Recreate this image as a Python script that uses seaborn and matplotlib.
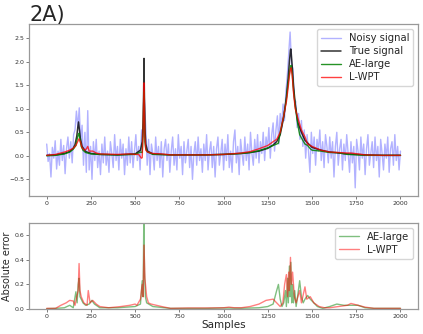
import numpy as np
import pandas as pd
import matplotlib
matplotlib.use("Agg")
import matplotlib.pyplot as plt
import seaborn as sns

# ---------------- data ----------------
noisy_step = 8
noisy_vals = [
    0.25, -0.12, 0.05, -0.45, 0.18, -0.05, 0.32, -0.28, 0.10, -0.20,
    0.35, -0.10, 0.22, -0.38, 0.15, 0.40, -0.05, 0.30, -0.15, 0.45,
    0.55, 0.95, 0.60, 1.02, 0.30, 0.65, -0.20, 0.50, -0.35, 0.96,
    -0.30, 0.20, -0.50, 0.30, -0.10, 0.35, -0.25, 0.10, -0.40, 0.25,
    -0.15, 0.40, -0.20, 0.10, -0.35, 0.30, 0.05, -0.25, 0.45, -0.10,
    0.20, -0.30, 0.35, -0.05, 0.25, -0.40, 0.15, -0.20, 0.40, -0.15,
    0.30, -0.25, 0.10, 0.45, -0.10, 0.20, -0.30, 0.55, 0.40, 1.20,
    0.60, -0.20, 0.35, -0.40, 0.25, 0.05, -0.30, 0.40, -0.10, 0.20,
    -0.25, 0.30, -0.45, 0.15, 0.35, -0.10, 0.25, -0.35, 0.10, 0.40,
    -0.20, 0.15, -0.30, 0.45, -0.05, 0.20, -0.40, 0.30, -0.15, 0.10,
    0.35, -0.25, 0.20, -0.50, 0.05, 0.30, -0.20, 0.40, -0.10, 0.15,
    -0.35, 0.25, -0.10, 0.45, -0.30, 0.10, 0.30, -0.25, 0.20, -0.45,
    0.15, 0.40, -0.20, 0.05, 0.35, -0.30, 0.25, -0.10, 0.45, -0.25,
    0.10, -0.35, 0.30, 0.55, -0.15, 0.20, -0.40, 0.35, 0.05, -0.20,
    0.40, -0.10, 0.25, -0.30, 0.50, 0.05, -0.20, 0.35, -0.05, 0.45,
    -0.15, 0.30, 0.05, 0.50, -0.10, 0.40, 0.15, 0.60, -0.05, 0.45,
    0.70, 0.10, 0.55, 0.85, 0.25, 0.90, 0.60, 1.10, 0.75, 1.35,
    1.70, 2.15, 2.63, 1.95, 1.85, 1.20, 1.15, 0.60, 0.90, 0.35,
    0.75, 0.20, 0.55, -0.05, 0.45, 0.10, -0.35, 0.50, 0.05, 0.40,
    -0.20, 0.35, 0.10, 0.55, -0.10, 0.30, -0.25, 0.45, 0.20, -0.15,
    0.40, -0.05, 0.30, -0.45, 0.20, 0.50, -0.20, 0.15, 0.35, -0.30,
    0.25, -0.10, 0.45, 0.05, -0.35, 0.30, -0.15, 0.20, -0.68, 0.35,
    0.10, -0.30, 0.40, -0.05, 0.25, -0.40, 0.15, 0.45, -0.20, 0.05,
    0.30, -0.25, 0.40, -0.10, 0.20, -0.45, 0.35, 0.05, -0.30, 0.25,
    -0.05, 0.40, -0.35, 0.15, 0.30, -0.20, 0.45, -0.10, 0.20, -0.30,
    0.10,
]
noisy_x = list(range(0, 2001, noisy_step))

true_x = [0, 50, 100, 130, 150, 160, 170, 175, 180, 185, 190, 200, 220, 250, 300,
          400, 500, 530, 540, 545, 548, 550, 552, 555, 560, 570, 600, 700, 800, 900,
          1000, 1100, 1150, 1200, 1250, 1280, 1300, 1320, 1340, 1355, 1365, 1372,
          1378, 1380, 1382, 1388, 1395, 1405, 1420, 1440, 1460, 1500, 1550, 1600,
          1700, 1800, 1900, 2000]
true_y = [0.01, 0.02, 0.05, 0.09, 0.16, 0.24, 0.42, 0.58, 0.72, 0.55, 0.38, 0.20, 0.09, 0.05, 0.03,
          0.02, 0.04, 0.12, 0.30, 0.70, 1.40, 2.07, 1.40, 0.60, 0.25, 0.10, 0.04, 0.02, 0.02, 0.02,
          0.03, 0.05, 0.07, 0.10, 0.16, 0.23, 0.30, 0.45, 0.82, 1.25, 1.65, 2.00,
          2.25, 2.27, 2.20, 1.90, 1.50, 1.10, 0.70, 0.50, 0.33, 0.18, 0.12, 0.08,
          0.04, 0.02, 0.01, 0.01]

ae_x = [0, 50, 100, 130, 150, 165, 172, 178, 182, 188, 195, 205, 220, 250, 300,
        400, 500, 530, 540, 545, 548, 550, 552, 555, 560, 570, 600, 700, 800, 900,
        1000, 1100, 1150, 1200, 1250, 1280, 1300, 1310, 1320, 1340, 1355, 1365, 1372,
        1378, 1382, 1388, 1395, 1405, 1420, 1430, 1440, 1460, 1475, 1490, 1500, 1550,
        1600, 1640, 1700, 1800, 1900, 2000]
ae_y = [0.00, 0.01, 0.04, 0.08, 0.14, 0.22, 0.35, 0.45, 0.48, 0.35, 0.20, 0.12, 0.07, 0.04, 0.03,
        0.02, 0.03, 0.08, 0.07, 0.50, 1.10, 1.37, 1.10, 0.30, 0.15, 0.08, 0.03, 0.02, 0.02, 0.02,
        0.03, 0.05, 0.07, 0.11, 0.17, 0.22, 0.25, 0.27, 0.50, 0.85, 1.20, 1.55, 1.75,
        1.90, 1.92, 1.75, 1.40, 1.05, 0.65, 0.45, 0.38, 0.25, 0.22, 0.15, 0.12, 0.10,
        0.07, 0.07, 0.03, 0.01, 0.01, 0.01]

wpt_x = [0, 50, 100, 130, 150, 165, 175, 182, 190, 200, 215, 225, 232, 240, 260, 280, 300,
         400, 470, 500, 520, 535, 540, 545, 548, 550, 552, 555, 560, 570, 600, 650, 700,
         800, 900, 1000, 1100, 1150, 1200, 1250, 1280, 1300, 1320, 1340, 1355, 1365,
         1372, 1378, 1382, 1388, 1395, 1405, 1420, 1440, 1460, 1475, 1500, 1550, 1600,
         1700, 1720, 1800, 1900, 2000]
wpt_y = [0.01, 0.03, 0.08, 0.12, 0.16, 0.22, 0.30, 0.36, 0.30, 0.17, 0.12, 0.15, 0.20, 0.10, 0.10, 0.06, 0.04,
         0.03, 0.04, 0.03, 0.03, -0.05, -0.04, 0.60, 1.20, 1.55, 1.20, 0.40, 0.12, 0.08, 0.05, 0.04, 0.02,
         0.02, 0.02, 0.03, 0.06, 0.09, 0.15, 0.22, 0.30, 0.35, 0.50, 0.85, 1.15, 1.45,
         1.70, 1.85, 1.87, 1.70, 1.35, 1.00, 0.80, 0.55, 0.40, 0.25, 0.20, 0.12, 0.08,
         0.06, 0.06, 0.02, 0.01, 0.01]

err_ae_x = [0, 50, 100, 130, 150, 165, 172, 178, 183, 188, 195, 205, 220, 240, 255, 270, 300,
            400, 500, 530, 540, 545, 549, 553, 558, 565, 600, 700, 800, 900, 1000, 1100, 1200,
            1250, 1280, 1300, 1310, 1320, 1330, 1340, 1350, 1355, 1362, 1366, 1372, 1376, 1380,
            1385, 1390, 1395, 1402, 1410, 1420, 1430, 1440, 1450, 1460, 1475, 1490, 1510, 1530,
            1560, 1600, 1640, 1680, 1720, 1760, 1800, 1850, 2000]
err_ae_y = [0.003, 0.005, 0.01, 0.03, 0.01, 0.14, 0.05, 0.20, 0.25, 0.10, 0.08, 0.05, 0.03, 0.04, 0.07, 0.04, 0.01,
            0.01, 0.02, 0.04, 0.23, 0.10, 0.75, 0.30, 0.10, 0.05, 0.02, 0.005, 0.005, 0.005, 0.008, 0.006, 0.01,
            0.02, 0.04, 0.15, 0.20, 0.08, 0.02, 0.05, 0.15, 0.02, 0.25, 0.05, 0.35, 0.10, 0.38,
            0.05, 0.20, 0.05, 0.15, 0.02, 0.12, 0.23, 0.10, 0.05, 0.08, 0.11, 0.08, 0.05, 0.02,
            0.005, 0.02, 0.04, 0.03, 0.03, 0.03, 0.01, 0.005, 0.005]

err_wpt_x = [0, 50, 80, 110, 130, 150, 160, 170, 178, 183, 188, 195, 210, 228, 235, 245, 260, 280, 300,
             350, 420, 470, 500, 510, 530, 540, 545, 550, 555, 565, 575, 590, 620, 650, 700,
             800, 900, 1000, 1030, 1060, 1100, 1150, 1200, 1240, 1280, 1300, 1320, 1335, 1345,
             1355, 1362, 1368, 1372, 1378, 1383, 1390, 1400, 1410, 1430, 1440, 1460, 1470, 1490,
             1510, 1540, 1570, 1600, 1650, 1700, 1720, 1760, 1800, 1850, 2000]
err_wpt_y = [0.005, 0.005, 0.03, 0.05, 0.07, 0.065, 0.03, 0.10, 0.15, 0.37, 0.15, 0.10, 0.05, 0.03, 0.15, 0.05, 0.07, 0.04, 0.02,
             0.01, 0.02, 0.03, 0.04, 0.03, 0.08, 0.20, 0.10, 0.52, 0.25, 0.10, 0.05, 0.04, 0.03, 0.02, 0.005,
             0.008, 0.008, 0.01, 0.015, 0.01, 0.01, 0.02, 0.04, 0.07, 0.08, 0.05, 0.02, 0.05, 0.20,
             0.28, 0.10, 0.30, 0.15, 0.42, 0.20, 0.30, 0.10, 0.05, 0.15, 0.05, 0.18, 0.08, 0.10,
             0.05, 0.02, 0.01, 0.01, 0.02, 0.03, 0.045, 0.03, 0.015, 0.005, 0.005]

# ---------------- plotting ----------------
sns.set_style("white")
plt.rcParams['font.family'] = ['DejaVu Sans']

fig = plt.figure(figsize=(4.23, 3.34), dpi=100)
ax1 = fig.add_axes([0.0686, 0.413, 0.920, 0.515])
ax2 = fig.add_axes([0.0686, 0.0749, 0.920, 0.2575])

sns.lineplot(x=noisy_x, y=noisy_vals, ax=ax1, color="blue", alpha=0.3, lw=1.0,
             label="Noisy signal", estimator=None, sort=False)
sns.lineplot(x=true_x, y=true_y, ax=ax1, color="black", alpha=0.8, lw=1.1,
             label="True signal", estimator=None, sort=False)
sns.lineplot(x=ae_x, y=ae_y, ax=ax1, color="green", alpha=0.85, lw=1.0,
             label="AE-large", estimator=None, sort=False)
sns.lineplot(x=wpt_x, y=wpt_y, ax=ax1, color="red", alpha=0.75, lw=1.0,
             label="L-WPT", estimator=None, sort=False)
ax1.set_xlim(-100, 2100)
ax1.set_ylim(-0.855, 2.80)
ax1.set_xticks([0, 250, 500, 750, 1000, 1250, 1500, 1750, 2000])
ax1.set_yticks([-0.5, 0.0, 0.5, 1.0, 1.5, 2.0, 2.5])
ax1.legend(loc="upper right", fontsize=7.2, frameon=True, handlelength=2.0,
           borderpad=0.4, labelspacing=0.3, edgecolor="#cccccc", fancybox=True)
ax1.set_title("2A)", loc="left", fontsize=15, pad=2)

sns.lineplot(x=err_ae_x, y=err_ae_y, ax=ax2, color="green", alpha=0.5, lw=1.0,
             label="AE-large", estimator=None, sort=False)
sns.lineplot(x=err_wpt_x, y=err_wpt_y, ax=ax2, color="red", alpha=0.5, lw=1.0,
             label="L-WPT", estimator=None, sort=False)
ax2.set_xlim(-100, 2100)
ax2.set_ylim(0, 0.70)
ax2.set_xticks([0, 250, 500, 750, 1000, 1250, 1500, 1750, 2000])
ax2.set_yticks([0.0, 0.2, 0.4, 0.6])
ax2.set_xlabel("Samples", fontsize=7.5, labelpad=1)
ax2.set_ylabel("Absolute error", fontsize=7, labelpad=2)
ax2.legend(loc="upper right", fontsize=7.2, frameon=True, handlelength=2.0,
           borderpad=0.4, labelspacing=0.3, edgecolor="#cccccc", fancybox=True)

for ax in (ax1, ax2):
    for s in ax.spines.values():
        s.set_color("#999999")
        s.set_linewidth(0.9)
    ax.tick_params(axis="both", labelsize=4.5, length=2, width=0.6, color="#666666",
                   labelcolor="#333333", pad=1.5, left=True, bottom=True)

fig.savefig("out.png", dpi=100)
